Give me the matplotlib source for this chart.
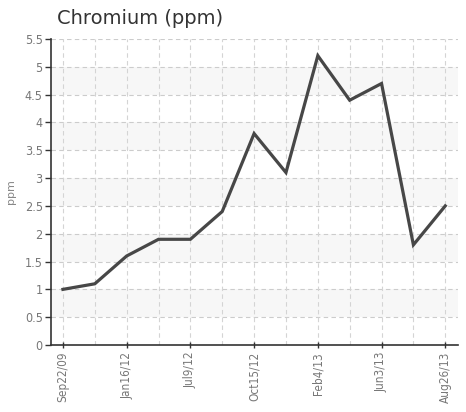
import matplotlib
matplotlib.use("Agg")
import matplotlib.pyplot as plt
import numpy as np

dates = ["Sep22/09", "", "Jan16/12", "", "Jul9/12", "", "Oct15/12", "",
         "Feb4/13", "", "Jun3/13", "", "Aug26/13"]
values = [1.0, 1.1, 1.6, 1.9, 1.9, 2.4, 3.8, 3.1, 5.2, 4.4, 4.7, 1.8, 2.5]
yticks = [0, 0.5, 1, 1.5, 2, 2.5, 3, 3.5, 4, 4.5, 5, 5.5]
ytick_labels = ["0", "0.5", "1", "1.5", "2", "2.5", "3", "3.5", "4", "4.5", "5", "5.5"]

W, H = 466, 412
fig = plt.figure(figsize=(W/100, H/100), dpi=100)
ax = fig.add_axes([51/W, 67/H, (458-51)/W, (345-39)/H])

x = np.arange(len(values))
for lo in [0.5, 1.5, 2.5, 3.5, 4.5]:
    ax.axhspan(lo, lo + 0.5, color="#f7f7f7", zorder=0, lw=0)

for yv in yticks[1:]:
    ax.axhline(yv, color="#cccccc", lw=0.8, ls=(0, (4, 3)), zorder=1)
for xv in x:
    ax.axvline(xv, color="#d4d4d4", lw=0.8, ls=(0, (4, 3)), zorder=1)

ax.plot(x, values, color="#474747", lw=2.3, zorder=3, solid_joinstyle="miter")

ax.set_xlim(-0.375, 12.4)
ax.set_ylim(0, 5.5)
ax.set_yticks(yticks)
ax.set_yticklabels(ytick_labels, family="DejaVu Sans", stretch="condensed",
                   fontsize=9, color="#777777")
lab_idx = [i for i, d in enumerate(dates) if d]
ax.set_xticks(lab_idx)
ax.set_xticklabels([dates[i] for i in lab_idx], rotation=90, family="DejaVu Sans",
                   stretch="condensed", fontsize=8.5, color="#777777")
ax.tick_params(axis="y", length=4, width=1, color="#333333", pad=2)
ax.tick_params(axis="x", length=4, width=1, color="#333333", direction="inout", pad=3)

for s in ["top", "right"]:
    ax.spines[s].set_visible(False)
for s in ["left", "bottom"]:
    ax.spines[s].set_color("#333333")
    ax.spines[s].set_linewidth(1.2)

ax.set_ylabel("ppm", fontsize=8, color="#888888")
ax.yaxis.set_label_coords(-0.086, 0.5)
fig.text(57/W, 1 - 18/H, "Chromium (ppm)", fontsize=14, color="#333333",
         va="center", ha="left", family="DejaVu Sans")

fig.savefig("out.png", dpi=100)
